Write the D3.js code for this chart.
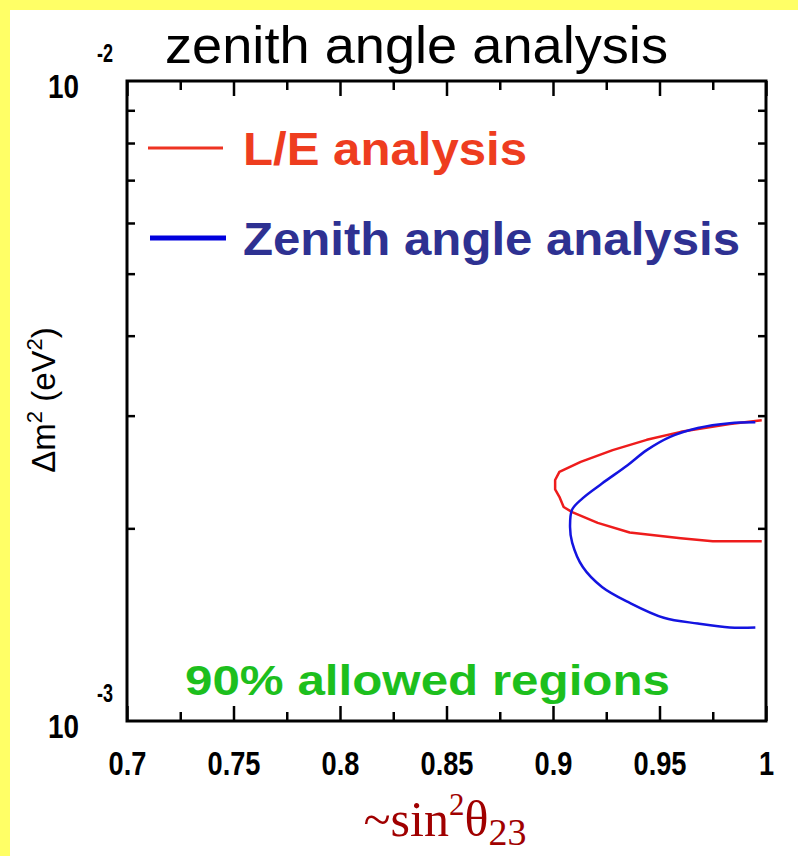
<!DOCTYPE html>
<html>
<head>
<meta charset="utf-8">
<script src="https://cdn.jsdelivr.net/npm/d3@7"></script>
<style>
  body { margin: 0; background: #fff; }
</style>
</head>
<body>
<div id="graph"></div>
<script>
// Data
const xTicks = [0.7, 0.75, 0.8, 0.85, 0.9, 0.95, 1];
const xTickLabels = ["0.7", "0.75", "0.8", "0.85", "0.9", "0.95", "1"];
const xMinorTicks = [0.725, 0.775, 0.825, 0.875, 0.925, 0.975];
const yMinorTicks = [0.002, 0.003, 0.004, 0.005, 0.006, 0.007, 0.008, 0.009];
const yTickValues = [0.01, 0.001];
const yTickExponents = ["-2", "-3"];

// L/E analysis contour (sin^2, dm^2)
const leSin = [0.998, 0.983, 0.960, 0.944, 0.928, 0.913, 0.903, 0.901, 0.901, 0.903, 0.905, 0.909, 0.921, 0.936, 0.960, 0.975, 0.998];
const leDm = [2.95e-3, 2.91e-3, 2.83e-3, 2.75e-3, 2.65e-3, 2.54e-3, 2.45e-3, 2.38e-3, 2.30e-3, 2.24e-3, 2.16e-3, 2.12e-3, 2.04e-3, 1.97e-3, 1.93e-3, 1.91e-3, 1.91e-3];

// Zenith angle analysis contour
const zenSin = [0.995, 0.983, 0.968, 0.955, 0.944, 0.935, 0.923, 0.914, 0.909, 0.908, 0.909, 0.914, 0.923, 0.936, 0.952, 0.968, 0.983, 0.995];
const zenDm = [2.93e-3, 2.92e-3, 2.87e-3, 2.78e-3, 2.65e-3, 2.51e-3, 2.35e-3, 2.23e-3, 2.14e-3, 2.01e-3, 1.90e-3, 1.74e-3, 1.62e-3, 1.53e-3, 1.45e-3, 1.42e-3, 1.40e-3, 1.40e-3];

const width = 798;
const height = 856;
const plotLeft = 127, plotRight = 766, plotTop = 81, plotBottom = 721;
const sans = "Arial, 'Liberation Sans', sans-serif";

let svg = d3.select("#graph")
    .append("svg")
    .attr("width", width)
    .attr("height", height)
    .attr("font-family", sans);

// Slide frame
svg.append("rect").attr("width", width).attr("height", height).attr("fill", "#fff");
svg.append("rect").attr("width", 10).attr("height", height).attr("fill", "#ffff66");
svg.append("rect").attr("width", width).attr("height", 10).attr("fill", "#ffff66");

// Scales
let xScale = d3.scaleLinear().domain([0.7, 1]).range([plotLeft, plotRight]);
let yScale = d3.scaleLog().domain([1e-3, 1e-2]).range([plotBottom, plotTop]);

// Title
svg.append("text")
    .attr("x", 165).attr("y", 63)
    .attr("font-size", 52)
    .attr("textLength", 503).attr("lengthAdjust", "spacingAndGlyphs")
    .text("zenith angle analysis");

// Curves
let line = d3.line()
    .x(d => xScale(d[0]))
    .y(d => yScale(d[1]));

svg.append("path")
    .datum(d3.zip(leSin, leDm))
    .attr("fill", "none")
    .attr("stroke", "#ee1c1c")
    .attr("stroke-width", 2.5)
    .attr("stroke-linejoin", "round")
    .attr("d", line.curve(d3.curveLinear));

svg.append("path")
    .datum(d3.zip(zenSin, zenDm))
    .attr("fill", "none")
    .attr("stroke", "#1414e0")
    .attr("stroke-width", 2.5)
    .attr("stroke-linejoin", "round")
    .attr("d", line.curve(d3.curveCatmullRom));

// Frame
svg.append("rect")
    .attr("x", plotLeft).attr("y", plotTop)
    .attr("width", plotRight - plotLeft).attr("height", plotBottom - plotTop)
    .attr("fill", "none").attr("stroke", "#000").attr("stroke-width", 3);

// Bottom axis, ticks pointing inward
let xAxis = svg.append("g")
    .attr("transform", "translate(0," + plotBottom + ")")
    .call(d3.axisBottom(xScale).tickValues(xTicks).tickSize(-15)
        .tickFormat((d, i) => xTickLabels[i]));
xAxis.select(".domain").remove();
xAxis.selectAll("line").attr("stroke-width", 2.5);
xAxis.selectAll("text")
    .attr("y", 54).attr("dy", 0)
    .attr("font-size", 34).attr("font-weight", "bold")
    .attr("font-family", sans)
    .each(function () {
        let w = this.getComputedTextLength();
        d3.select(this).attr("textLength", w * 0.8).attr("lengthAdjust", "spacingAndGlyphs");
    });

let xMinor = svg.append("g")
    .attr("transform", "translate(0," + plotBottom + ")")
    .call(d3.axisBottom(xScale).tickValues(xMinorTicks).tickSize(-9).tickFormat(""));
xMinor.select(".domain").remove();
xMinor.selectAll("line").attr("stroke-width", 2.5);

// Top axis
let xTop = svg.append("g")
    .attr("transform", "translate(0," + plotTop + ")")
    .call(d3.axisTop(xScale).tickValues(xTicks).tickSize(-15).tickFormat(""));
xTop.select(".domain").remove();
xTop.selectAll("line").attr("stroke-width", 2.5);

let xTopMinor = svg.append("g")
    .attr("transform", "translate(0," + plotTop + ")")
    .call(d3.axisTop(xScale).tickValues(xMinorTicks).tickSize(-9).tickFormat(""));
xTopMinor.select(".domain").remove();
xTopMinor.selectAll("line").attr("stroke-width", 2.5);

// Left and right log axes (minor ticks only)
let yLeft = svg.append("g")
    .attr("transform", "translate(" + plotLeft + ",0)")
    .call(d3.axisLeft(yScale).tickValues(yMinorTicks).tickSize(-8).tickFormat(""));
yLeft.select(".domain").remove();
yLeft.selectAll("line").attr("stroke-width", 2.5);

let yRight = svg.append("g")
    .attr("transform", "translate(" + plotRight + ",0)")
    .call(d3.axisRight(yScale).tickValues(yMinorTicks).tickSize(-8).tickFormat(""));
yRight.select(".domain").remove();
yRight.selectAll("line").attr("stroke-width", 2.5);

// Y tick labels 10^-2, 10^-3
let yLabels = svg.append("g")
    .attr("font-weight", "bold")
    .selectAll("g")
    .data(yTickValues)
    .join("g");
yLabels.append("text")
    .attr("x", 48)
    .attr("y", d => yScale(d) + 17)
    .attr("font-size", 34)
    .attr("textLength", 31).attr("lengthAdjust", "spacingAndGlyphs")
    .text("10");
yLabels.append("text")
    .attr("x", 97)
    .attr("y", d => yScale(d) - 19)
    .attr("font-size", 25)
    .attr("textLength", 16).attr("lengthAdjust", "spacingAndGlyphs")
    .text((d, i) => yTickExponents[i]);

// Y axis title
let yTitle = svg.append("text")
    .attr("transform", "translate(55,400) rotate(-90)")
    .attr("text-anchor", "middle")
    .attr("font-size", 33);
yTitle.append("tspan").text("\u0394m");
yTitle.append("tspan").attr("font-size", 22).attr("dy", -13).text("2");
yTitle.append("tspan").attr("dy", 13).text(" (eV");
yTitle.append("tspan").attr("font-size", 22).attr("dy", -13).text("2");
yTitle.append("tspan").attr("dy", 13).text(")");

// Legend
svg.append("line")
    .attr("x1", 148).attr("x2", 223).attr("y1", 148).attr("y2", 148)
    .attr("stroke", "#ee3322").attr("stroke-width", 3);
svg.append("text")
    .attr("x", 243).attr("y", 165)
    .attr("font-size", 46).attr("font-weight", "bold")
    .attr("fill", "#ee3d1f")
    .attr("textLength", 284).attr("lengthAdjust", "spacingAndGlyphs")
    .text("L/E analysis");

svg.append("line")
    .attr("x1", 150).attr("x2", 226).attr("y1", 238).attr("y2", 238)
    .attr("stroke", "#0000dd").attr("stroke-width", 5);
svg.append("text")
    .attr("x", 243).attr("y", 255)
    .attr("font-size", 46).attr("font-weight", "bold")
    .attr("fill", "#2e3192")
    .attr("textLength", 497).attr("lengthAdjust", "spacingAndGlyphs")
    .text("Zenith angle analysis");

svg.append("text")
    .attr("x", 185).attr("y", 695)
    .attr("font-size", 43).attr("font-weight", "bold")
    .attr("fill", "#1dbf1d")
    .attr("textLength", 485).attr("lengthAdjust", "spacingAndGlyphs")
    .text("90% allowed regions");

// X axis title
let xTitle = svg.append("text")
    .attr("x", 445).attr("y", 836)
    .attr("text-anchor", "middle")
    .attr("font-family", "'Liberation Serif', 'Times New Roman', serif")
    .attr("font-size", 50)
    .attr("fill", "#a00000");
xTitle.append("tspan").text("~sin");
xTitle.append("tspan").attr("font-size", 31).attr("dy", -21).text("2");
xTitle.append("tspan").attr("dy", 21).text("\u03b8");
xTitle.append("tspan").attr("font-size", 38).attr("dy", 9).text("23");
</script>
</body>
</html>
